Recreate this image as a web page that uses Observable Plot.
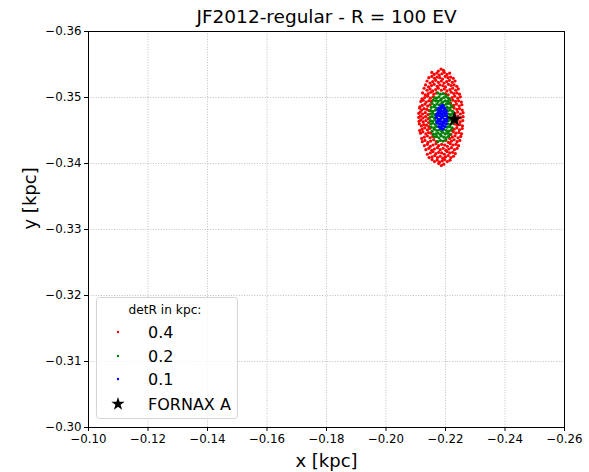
<!DOCTYPE html>
<html><head><meta charset="utf-8">
<script src="https://cdn.jsdelivr.net/npm/d3@7"></script>
<script src="https://cdn.jsdelivr.net/npm/@observablehq/plot@0.6"></script>
<style>
html,body{margin:0;padding:0;background:#fff;}
#wrap{position:relative;width:589px;height:472px;font-family:"DejaVu Sans",sans-serif;}
#legend{position:absolute;left:96px;top:297px;}
</style>
</head><body>
<div id="wrap"></div>
<script>
// Chart text
const title = "JF2012-regular - R = 100 EV";
const xLabel = "x [kpc]";
const yLabel = "y [kpc]";
const legendTitle = "detR in kpc:";
const seriesNames = ["0.4", "0.2", "0.1"];
const starName = "FORNAX A";
const xTicks = [-0.10, -0.12, -0.14, -0.16, -0.18, -0.20, -0.22, -0.24, -0.26];
const yTicks = [-0.36, -0.35, -0.34, -0.33, -0.32, -0.31, -0.30];

// Point positions, in units of 1e-4 kpc
const redX = [
-2194,-2186,-2177,
-2215,-2206,-2197,-2189,-2180,-2172,-2163,-2155,
-2227,-2218,-2209,-2200,-2191,-2182,-2173,-2164,-2155,-2145,
-2233,-2224,-2214,-2205,-2196,-2187,-2177,-2168,-2158,-2149,-2139,
-2239,-2230,-2220,-2211,-2201,-2192,-2182,-2173,-2163,-2154,-2144,-2134,
-2244,-2235,-2225,-2216,-2206,-2197,-2187,-2177,-2168,-2158,-2149,-2139,-2129,
-2248,-2239,-2229,-2220,-2210,-2201,-2169,-2160,-2150,-2141,-2131,-2122,
-2251,-2242,-2232,-2223,-2214,-2157,-2148,-2139,-2129,-2120,
-2254,-2245,-2235,-2226,-2218,-2151,-2143,-2134,-2124,-2116,
-2256,-2247,-2238,-2229,-2222,-2147,-2139,-2130,-2121,-2113,
-2257,-2248,-2239,-2230,-2144,-2136,-2127,-2119,-2112,
-2258,-2249,-2240,-2231,-2143,-2134,-2125,-2117,-2111,
-2259,-2250,-2241,-2232,-2142,-2133,-2124,-2116,-2110,
-2259,-2250,-2241,-2232,-2141,-2132,-2123,-2115,-2110,
-2256,-2247,-2238,-2229,-2145,-2137,-2128,-2120,-2113,
-2255,-2246,-2237,-2228,-2221,-2148,-2140,-2131,-2122,-2114,
-2253,-2244,-2234,-2225,-2217,-2152,-2144,-2135,-2125,-2117,
-2250,-2241,-2231,-2222,-2213,-2158,-2149,-2140,-2130,-2121,
-2247,-2238,-2228,-2219,-2209,-2200,-2170,-2161,-2151,-2142,-2132,-2123,
-2243,-2234,-2224,-2215,-2205,-2196,-2186,-2176,-2167,-2157,-2148,-2138,-2128,
-2238,-2229,-2219,-2210,-2200,-2191,-2181,-2172,-2162,-2153,-2143,-2133,
-2232,-2223,-2213,-2204,-2195,-2186,-2176,-2167,-2157,-2148,-2138,
-2226,-2217,-2208,-2199,-2190,-2181,-2172,-2163,-2154,-2144,
-2214,-2205,-2196,-2188,-2179,-2171,-2162,-2154,
-2193,-2185,-2176];
const redY = [
-3399,-3397,-3400,
-3405,-3403,-3406,-3404,-3402,-3405,-3403,-3406,
-3411,-3409,-3412,-3410,-3408,-3411,-3409,-3412,-3410,-3409,
-3415,-3417,-3416,-3418,-3414,-3416,-3417,-3415,-3418,-3416,-3414,
-3423,-3421,-3424,-3422,-3420,-3423,-3421,-3424,-3422,-3420,-3423,-3421,
-3427,-3429,-3428,-3430,-3426,-3428,-3429,-3427,-3430,-3428,-3426,-3429,-3427,
-3435,-3433,-3436,-3434,-3432,-3435,-3433,-3436,-3434,-3432,-3435,-3433,
-3441,-3439,-3442,-3440,-3438,-3441,-3439,-3442,-3440,-3438,
-3445,-3447,-3446,-3448,-3444,-3446,-3447,-3445,-3448,-3446,
-3453,-3451,-3454,-3452,-3450,-3453,-3451,-3454,-3452,-3450,
-3457,-3459,-3458,-3460,-3456,-3458,-3459,-3457,-3460,
-3465,-3463,-3466,-3464,-3462,-3465,-3463,-3466,-3464,
-3471,-3469,-3472,-3470,-3468,-3471,-3469,-3472,-3470,
-3477,-3475,-3478,-3476,-3474,-3477,-3475,-3478,-3476,
-3481,-3483,-3482,-3484,-3480,-3482,-3483,-3481,-3484,
-3489,-3487,-3490,-3488,-3486,-3489,-3487,-3490,-3488,-3486,
-3493,-3495,-3494,-3496,-3492,-3494,-3495,-3493,-3496,-3494,
-3501,-3499,-3502,-3500,-3498,-3501,-3499,-3502,-3500,-3498,
-3505,-3507,-3506,-3508,-3504,-3506,-3507,-3505,-3508,-3506,-3504,-3507,
-3513,-3511,-3514,-3512,-3510,-3513,-3511,-3514,-3512,-3510,-3513,-3511,-3514,
-3517,-3519,-3518,-3520,-3516,-3518,-3519,-3517,-3520,-3518,-3516,-3519,
-3525,-3523,-3526,-3524,-3522,-3525,-3523,-3526,-3524,-3522,-3525,
-3529,-3531,-3530,-3532,-3528,-3530,-3531,-3529,-3532,-3530,
-3537,-3535,-3538,-3536,-3534,-3537,-3535,-3538,
-3541,-3543,-3540];

const greenX = [
-2201,-2192,-2183,-2174,
-2210,-2202,-2194,-2186,-2178,-2170,-2163,
-2215,-2207,-2199,-2191,-2183,-2175,-2167,-2159,
-2219,-2211,-2203,-2195,-2187,-2179,-2171,-2163,-2155,
-2222,-2214,-2206,-2169,-2161,-2152,
-2224,-2216,-2208,-2166,-2158,-2150,
-2225,-2217,-2210,-2164,-2156,-2149,
-2226,-2218,-2211,-2163,-2155,-2148,
-2225,-2217,-2210,-2164,-2156,-2149,
-2224,-2216,-2208,-2166,-2158,-2150,
-2222,-2214,-2206,-2169,-2161,-2152,
-2219,-2211,-2203,-2195,-2187,-2179,-2171,-2163,-2155,
-2215,-2207,-2199,-2191,-2183,-2175,-2167,-2159,
-2210,-2202,-2194,-2186,-2178,-2170,-2163,
-2201,-2192,-2183,-2174];
const greenY = [
-3436,-3434,-3435,-3433,
-3441,-3439,-3440,-3442,-3439,-3441,-3440,
-3444,-3446,-3445,-3447,-3444,-3446,-3445,-3444,
-3451,-3449,-3450,-3452,-3449,-3451,-3450,-3452,-3449,
-3454,-3456,-3455,-3456,-3454,-3455,
-3461,-3459,-3460,-3459,-3461,-3460,
-3464,-3466,-3465,-3466,-3464,-3465,
-3471,-3469,-3470,-3469,-3471,-3470,
-3476,-3474,-3475,-3474,-3476,-3475,
-3479,-3481,-3480,-3481,-3479,-3480,
-3486,-3484,-3485,-3484,-3486,-3485,
-3489,-3491,-3490,-3488,-3491,-3489,-3490,-3488,-3491,
-3496,-3494,-3495,-3493,-3496,-3494,-3495,-3496,
-3499,-3501,-3500,-3498,-3501,-3499,-3500,
-3504,-3506,-3505,-3507];

const blueX = [
-2191,-2184,
-2198,-2191,-2184,-2177,
-2202,-2195,-2188,-2181,-2174,
-2204,-2197,-2190,-2183,-2176,-2170,
-2205,-2198,-2191,-2184,-2177,-2170,
-2204,-2197,-2190,-2183,-2176,-2169,
-2203,-2196,-2189,-2182,-2175,-2170,
-2202,-2195,-2188,-2181,-2174,
-2198,-2191,-2184,-2177,
-2191,-2184];
const blueY = [
-3452,-3453,
-3456,-3457,-3455,-3456,
-3460,-3461,-3459,-3460,-3461,
-3464,-3465,-3463,-3464,-3465,-3463,
-3468,-3467,-3469,-3468,-3467,-3469,
-3472,-3473,-3471,-3472,-3473,-3471,
-3476,-3477,-3475,-3476,-3477,-3475,
-3480,-3481,-3479,-3480,-3481,
-3484,-3485,-3483,-3484,
-3488,-3487];

// FORNAX A position (kpc)
const starX = [-0.2230];
const starY = [-0.3467];

const colors = ["#ff0000", "#008000", "#0000ff"];
const U = 1e-4;
const toPts = (xs, ys) => xs.map((x, i) => ({x: x * U, y: ys[i] * U}));
const red = toPts(redX, redY), green = toPts(greenX, greenY), blue = toPts(blueX, blueY);
const star = starX.map((x, i) => ({x, y: starY[i]}));
const fmt = d3.format(".2f");
const grid = {stroke: "#b0b0b0", strokeOpacity: 1, strokeWidth: 0.8, strokeDasharray: "1,1.6"};

const chart = Plot.plot({
  width: 589, height: 472,
  marginTop: 31, marginBottom: 45, marginLeft: 88, marginRight: 25,
  style: {fontFamily: "DejaVu Sans", fontSize: "11.8px", background: "white", color: "black"},
  x: {domain: [-0.10, -0.26]},
  y: {domain: [-0.30, -0.36]},
  marks: [
    Plot.gridX(xTicks, grid),
    Plot.gridY(yTicks, grid),
    Plot.dot(red, {x: "x", y: "y", r: 1.6, fill: colors[0]}),
    Plot.dot(green, {x: "x", y: "y", r: 1.6, fill: colors[1]}),
    Plot.dot(blue, {x: "x", y: "y", r: 1.6, fill: colors[2]}),
    Plot.dot(star, {x: "x", y: "y", r: 5, symbol: "star", fill: "black"}),
    Plot.frame({stroke: "black", strokeWidth: 1}),
    Plot.axisX(xTicks, {tickFormat: fmt, tickSize: 4, tickPadding: 3, label: null}),
    Plot.axisY(yTicks, {tickFormat: fmt, tickSize: 4, tickPadding: 3, label: null}),
    Plot.text([xLabel], {frameAnchor: "bottom", lineAnchor: "middle", dy: 34, fontSize: 18, fill: "black"}),
    Plot.text([yLabel], {frameAnchor: "left", lineAnchor: "middle", dx: -58, rotate: -90, fontSize: 18, fill: "black"}),
    Plot.text([title], {frameAnchor: "top", lineAnchor: "middle", dy: -14, fontSize: 18.5, fill: "black"})
  ]
});
const wrap = document.getElementById("wrap");
wrap.appendChild(chart);

// Legend
const lg = d3.select(wrap).append("svg").attr("id", "legend")
  .attr("width", 142).attr("height", 122)
  .style("font-family", "DejaVu Sans");
lg.append("rect").attr("x", 0.5).attr("y", 0.5).attr("width", 141).attr("height", 121)
  .attr("rx", 3).attr("fill", "white").attr("fill-opacity", 0.8).attr("stroke", "#d5d5d5");
lg.append("text").attr("x", 69).attr("y", 13).attr("text-anchor", "middle")
  .attr("dominant-baseline", "central").attr("font-size", 12.2).text(legendTitle);
const rows = [35, 59, 82, 107];
seriesNames.forEach((s, i) => {
  lg.append("circle").attr("cx", 22).attr("cy", rows[i]).attr("r", 1.2).attr("fill", colors[i]);
  lg.append("text").attr("x", 52).attr("y", rows[i]).attr("dominant-baseline", "central")
    .attr("font-size", 16).text(s);
});
lg.append("path").attr("transform", `translate(22,${rows[3]})`)
  .attr("d", d3.symbol(d3.symbolStar, 55)()).attr("fill", "black");
lg.append("text").attr("x", 52).attr("y", rows[3]).attr("dominant-baseline", "central")
  .attr("font-size", 16).text(starName);
</script>
</body></html>
